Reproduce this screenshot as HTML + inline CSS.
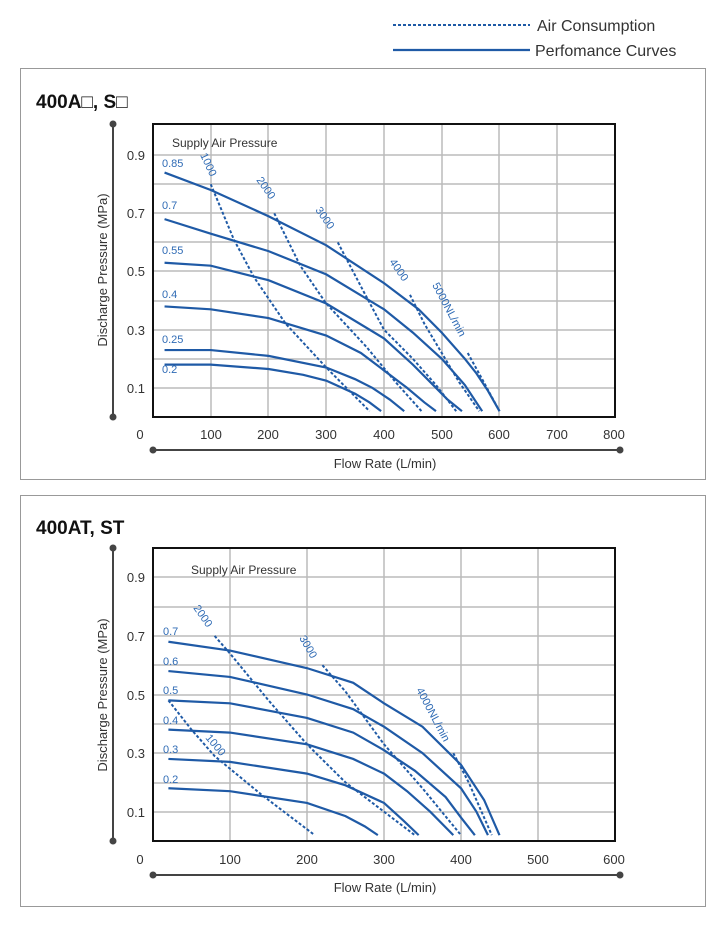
<!DOCTYPE html>
<html><head><meta charset="utf-8"><style>
body{margin:0;background:#fff;width:726px;height:925px;overflow:hidden;font-family:"Liberation Sans",sans-serif}
</style></head><body>
<svg width="726" height="925" xmlns="http://www.w3.org/2000/svg" font-family="Liberation Sans, sans-serif">
<!-- legend -->
<line x1="393" y1="25" x2="530" y2="25" stroke="#1f5aa6" stroke-width="2" stroke-dasharray="3,2"/>
<text x="537" y="31" font-size="16" fill="#333">Air Consumption</text>
<line x1="393" y1="50" x2="530" y2="50" stroke="#1f5aa6" stroke-width="2.2"/>
<text x="535" y="56" font-size="16" fill="#333">Perfomance Curves</text>

<!-- panel 1 -->
<rect x="20.5" y="68.5" width="685" height="411" fill="none" stroke="#999"/>
<text x="36" y="108" font-size="19" font-weight="bold" fill="#111">400A□, S□</text>
<g stroke="#bbb" stroke-width="1.5">
<line x1="211" y1="124" x2="211" y2="417"/><line x1="268" y1="124" x2="268" y2="417"/><line x1="326" y1="124" x2="326" y2="417"/><line x1="384" y1="124" x2="384" y2="417"/><line x1="442" y1="124" x2="442" y2="417"/><line x1="499" y1="124" x2="499" y2="417"/><line x1="557" y1="124" x2="557" y2="417"/>
<line x1="153" y1="388" x2="615" y2="388"/><line x1="153" y1="359" x2="615" y2="359"/><line x1="153" y1="330" x2="615" y2="330"/><line x1="153" y1="301" x2="615" y2="301"/><line x1="153" y1="271" x2="615" y2="271"/><line x1="153" y1="242" x2="615" y2="242"/><line x1="153" y1="213" x2="615" y2="213"/><line x1="153" y1="184" x2="615" y2="184"/><line x1="153" y1="155" x2="615" y2="155"/>
</g>
<rect x="153" y="124" width="462" height="293" fill="none" stroke="#111" stroke-width="2"/>
<g font-size="13" fill="#333" text-anchor="end">
<text x="145" y="160">0.9</text><text x="145" y="218">0.7</text><text x="145" y="276">0.5</text><text x="145" y="335">0.3</text><text x="145" y="393">0.1</text></g>
<g font-size="13" fill="#333" text-anchor="middle">
<text x="140" y="439">0</text><text x="211" y="439">100</text><text x="268" y="439">200</text><text x="326" y="439">300</text><text x="384" y="439">400</text><text x="442" y="439">500</text><text x="499" y="439">600</text><text x="557" y="439">700</text><text x="614" y="439">800</text></g>
<line x1="113" y1="124" x2="113" y2="417" stroke="#444" stroke-width="2"/><circle cx="113" cy="124" r="3.5" fill="#444"/><circle cx="113" cy="417" r="3.5" fill="#444"/>
<line x1="153" y1="450" x2="620" y2="450" stroke="#444" stroke-width="2"/><circle cx="153" cy="450" r="3.5" fill="#444"/><circle cx="620" cy="450" r="3.5" fill="#444"/>
<text x="385" y="468" font-size="13" fill="#333" text-anchor="middle">Flow Rate (L/min)</text>
<text transform="translate(107,270) rotate(-90)" font-size="13" fill="#333" text-anchor="middle">Discharge Pressure (MPa)</text>
<text x="172" y="147" font-size="12" fill="#333">Supply Air Pressure</text>
<g font-size="11" fill="#2f6bb5">
<text x="162" y="167">0.85</text><text x="162" y="209">0.7</text><text x="162" y="254">0.55</text><text x="162" y="298">0.4</text><text x="162" y="343">0.25</text><text x="162" y="373">0.2</text>
<text transform="translate(200,155) rotate(65)">1000</text>
<text transform="translate(256,180) rotate(55)">2000</text>
<text transform="translate(315,210) rotate(55)">3000</text>
<text transform="translate(389,262) rotate(55)">4000</text>
<text transform="translate(432,285) rotate(62)">5000NL/min</text>
</g>
<g transform="translate(153,417) scale(0.5775,-291)" fill="none" stroke="#1f5aa6">
<g stroke-width="2.2">
<polyline vector-effect="non-scaling-stroke" points="20,0.84 100,0.78 200,0.69 300,0.59 400,0.46 460,0.37 500,0.29 540,0.2 560,0.15 580,0.09 600,0.02"/>
<polyline vector-effect="non-scaling-stroke" points="20,0.68 100,0.63 200,0.57 300,0.49 400,0.37 450,0.29 500,0.2 540,0.11 570,0.02"/>
<polyline vector-effect="non-scaling-stroke" points="20,0.53 100,0.52 200,0.47 300,0.39 400,0.27 450,0.18 480,0.12 510,0.06 535,0.02"/>
<polyline vector-effect="non-scaling-stroke" points="20,0.38 100,0.37 200,0.34 300,0.28 360,0.22 400,0.16 440,0.1 470,0.05 490,0.02"/>
<polyline vector-effect="non-scaling-stroke" points="20,0.23 100,0.23 200,0.21 300,0.17 350,0.13 380,0.1 410,0.06 435,0.02"/>
<polyline vector-effect="non-scaling-stroke" points="20,0.18 100,0.18 200,0.165 260,0.145 300,0.125 350,0.08 375,0.05 395,0.02"/>
</g>
<g stroke-width="2" stroke-dasharray="3,2">
<polyline vector-effect="non-scaling-stroke" points="100,0.8 140,0.61 175,0.48 230,0.32 300,0.17 340,0.09 375,0.02"/>
<polyline vector-effect="non-scaling-stroke" points="210,0.7 255,0.52 300,0.39 370,0.24 420,0.12 465,0.02"/>
<polyline vector-effect="non-scaling-stroke" points="320,0.6 365,0.43 400,0.3 450,0.2 490,0.11 525,0.02"/>
<polyline vector-effect="non-scaling-stroke" points="445,0.42 470,0.32 500,0.22 530,0.12 565,0.02"/>
<polyline vector-effect="non-scaling-stroke" points="545,0.22 570,0.13 600,0.02"/>
</g></g>

<!-- panel 2 -->
<rect x="20.5" y="495.5" width="685" height="411" fill="none" stroke="#999"/>
<text x="36" y="534" font-size="19" font-weight="bold" fill="#111">400AT, ST</text>
<g stroke="#bbb" stroke-width="1.5">
<line x1="230" y1="548" x2="230" y2="841"/><line x1="307" y1="548" x2="307" y2="841"/><line x1="384" y1="548" x2="384" y2="841"/><line x1="461" y1="548" x2="461" y2="841"/><line x1="538" y1="548" x2="538" y2="841"/>
<line x1="153" y1="812" x2="615" y2="812"/><line x1="153" y1="783" x2="615" y2="783"/><line x1="153" y1="753" x2="615" y2="753"/><line x1="153" y1="724" x2="615" y2="724"/><line x1="153" y1="695" x2="615" y2="695"/><line x1="153" y1="665" x2="615" y2="665"/><line x1="153" y1="636" x2="615" y2="636"/><line x1="153" y1="607" x2="615" y2="607"/><line x1="153" y1="577" x2="615" y2="577"/>
</g>
<rect x="153" y="548" width="462" height="293" fill="none" stroke="#111" stroke-width="2"/>
<g font-size="13" fill="#333" text-anchor="end">
<text x="145" y="582">0.9</text><text x="145" y="641">0.7</text><text x="145" y="700">0.5</text><text x="145" y="758">0.3</text><text x="145" y="817">0.1</text></g>
<g font-size="13" fill="#333" text-anchor="middle">
<text x="140" y="864">0</text><text x="230" y="864">100</text><text x="307" y="864">200</text><text x="384" y="864">300</text><text x="461" y="864">400</text><text x="538" y="864">500</text><text x="614" y="864">600</text></g>
<line x1="113" y1="548" x2="113" y2="841" stroke="#444" stroke-width="2"/><circle cx="113" cy="548" r="3.5" fill="#444"/><circle cx="113" cy="841" r="3.5" fill="#444"/>
<line x1="153" y1="875" x2="620" y2="875" stroke="#444" stroke-width="2"/><circle cx="153" cy="875" r="3.5" fill="#444"/><circle cx="620" cy="875" r="3.5" fill="#444"/>
<text x="385" y="892" font-size="13" fill="#333" text-anchor="middle">Flow Rate (L/min)</text>
<text transform="translate(107,695) rotate(-90)" font-size="13" fill="#333" text-anchor="middle">Discharge Pressure (MPa)</text>
<text x="191" y="574" font-size="12" fill="#333">Supply Air Pressure</text>
<g font-size="11" fill="#2f6bb5">
<text x="163" y="635">0.7</text><text x="163" y="665">0.6</text><text x="163" y="694">0.5</text><text x="163" y="724">0.4</text><text x="163" y="753">0.3</text><text x="163" y="783">0.2</text>
<text transform="translate(193,608) rotate(55)">2000</text>
<text transform="translate(299,638) rotate(60)">3000</text>
<text transform="translate(205,738) rotate(50)">1000</text>
<text transform="translate(416,690) rotate(62)">4000NL/min</text>
</g>
<g transform="translate(153,841) scale(0.77,-293)" fill="none" stroke="#1f5aa6">
<g stroke-width="2.2">
<polyline vector-effect="non-scaling-stroke" points="20,0.68 100,0.65 200,0.59 260,0.54 300,0.47 350,0.39 400,0.26 430,0.14 450,0.02"/>
<polyline vector-effect="non-scaling-stroke" points="20,0.58 100,0.56 200,0.5 260,0.45 300,0.39 350,0.3 400,0.18 420,0.1 435,0.02"/>
<polyline vector-effect="non-scaling-stroke" points="20,0.48 100,0.47 200,0.42 260,0.37 300,0.31 340,0.24 380,0.15 400,0.08 418,0.02"/>
<polyline vector-effect="non-scaling-stroke" points="20,0.38 100,0.37 200,0.33 260,0.28 300,0.23 330,0.17 360,0.1 390,0.02"/>
<polyline vector-effect="non-scaling-stroke" points="20,0.28 100,0.27 200,0.23 250,0.19 300,0.13 325,0.07 345,0.02"/>
<polyline vector-effect="non-scaling-stroke" points="20,0.18 100,0.17 200,0.13 250,0.085 275,0.05 292,0.02"/>
</g>
<g stroke-width="2" stroke-dasharray="3,2">
<polyline vector-effect="non-scaling-stroke" points="80,0.7 100,0.64 150,0.48 200,0.33 250,0.2 300,0.1 340,0.02"/>
<polyline vector-effect="non-scaling-stroke" points="220,0.6 250,0.51 300,0.33 350,0.18 400,0.02"/>
<polyline vector-effect="non-scaling-stroke" points="20,0.48 50,0.38 80,0.29 140,0.16 180,0.08 210,0.02"/>
<polyline vector-effect="non-scaling-stroke" points="390,0.3 410,0.2 440,0.02"/>
</g></g>
</svg>
</body></html>
